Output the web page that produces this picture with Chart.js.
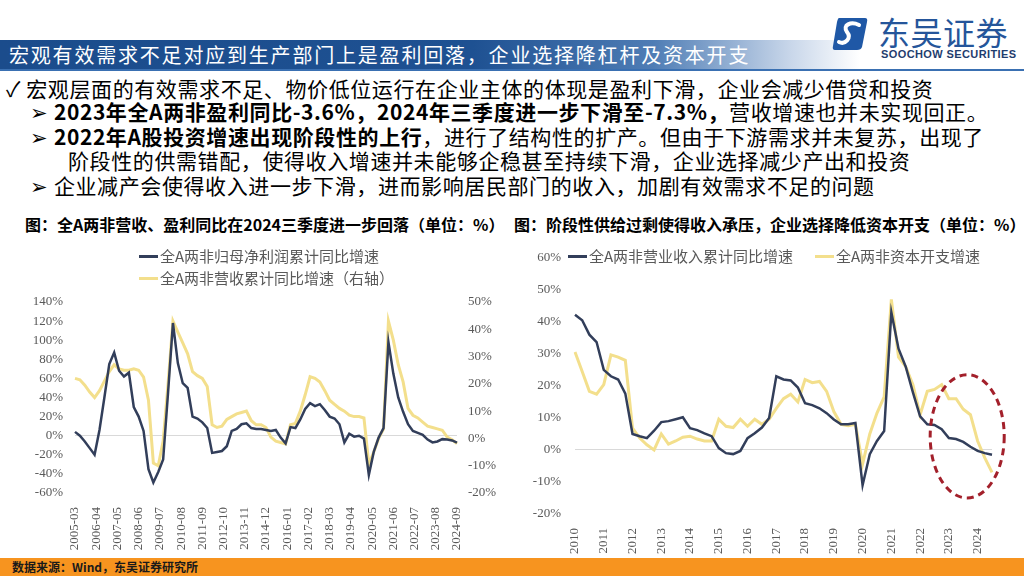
<!DOCTYPE html>
<html>
<head>
<meta charset="utf-8">
<script src="https://cdn.jsdelivr.net/npm/chart.js@4.4.1/dist/chart.umd.min.js"></script>
<style>
body{margin:0;background:#fff;}
#slide{position:relative;width:1024px;height:576px;overflow:hidden;background:#fff;font-family:'Noto Sans CJK SC',sans-serif;color:#000;}
.band{position:absolute;left:0;top:40px;width:860px;height:29px;background:linear-gradient(90deg,#1b4c8c 0%,#1e5192 55%,#4f7db5 76%,#c9d7ea 92%,rgba(255,255,255,0) 100%);}
.rule{position:absolute;left:0;top:69px;width:1024px;height:2px;background:#3a70b2;}
.title{position:absolute;left:9px;top:40px;height:29px;line-height:29px;color:#fff;font-size:20px;letter-spacing:1.8px;white-space:nowrap;}
.logo-cn{position:absolute;left:878px;top:13px;font-size:32px;line-height:36px;color:#25559a;letter-spacing:0.5px;}
.logo-en{position:absolute;left:881px;top:48px;font-family:'Liberation Sans Narrow','Liberation Sans',sans-serif;font-weight:bold;font-size:11px;color:#1f3d6e;letter-spacing:0.4px;}
.line{position:absolute;white-space:nowrap;font-size:21px;line-height:24px;letter-spacing:0.6px;}
.b{font-weight:bold;}
.cap{position:absolute;top:214px;font-size:16px;font-weight:bold;line-height:20px;white-space:nowrap;}
.leg{position:absolute;font-size:15px;line-height:18px;color:#595959;white-space:nowrap;}
.leg i{display:inline-block;width:19px;height:3px;vertical-align:middle;margin-right:2px;position:relative;top:-1px;}
.foot{position:absolute;left:0;top:558px;width:1024px;height:18px;background:#f7941f;}
.foot span{position:absolute;left:12px;top:0;font-size:12px;line-height:18px;font-weight:bold;color:#1a1a1a;}
canvas{position:absolute;}
</style>
</head>
<body>
<div id="slide">
  <div class="band"></div>
  <div class="rule"></div>
  <div class="title">宏观有效需求不足对应到生产部门上是盈利回落，企业选择降杠杆及资本开支</div>
  <svg style="position:absolute;left:831px;top:16px" width="38" height="36" viewBox="0 0 38 36">
    <path d="M8 2 H34 Q37 2 36 6 L31 31 Q30 34 26 34 H4 Q1 34 2 30 L6 6 Q7 2 8 2Z" fill="#1f58a6"/>
    <path d="M28 9 C20 5 11 9 16 16 C21 22 14 29 8 26" stroke="#fff" stroke-width="4" fill="none" stroke-linecap="round"/>
  </svg>
  <div class="logo-cn">东吴证券</div>
  <div class="logo-en">SOOCHOW SECURITIES</div>

  <div class="line" style="left:6px;top:76px;">✓ 宏观层面的有效需求不足、物价低位运行在企业主体的体现是盈利下滑，企业会减少借贷和投资</div>
  <div class="line" style="left:30px;top:99px;">➢ <span class="b">2023年全A两非盈利同比-3.6%，2024年三季度进一步下滑至-7.3%，</span>营收增速也并未实现回正。</div>
  <div class="line" style="left:30px;top:124px;">➢ <span class="b">2022年A股投资增速出现阶段性的上行</span>，进行了结构性的扩产。但由于下游需求并未复苏，出现了</div>
  <div class="line" style="left:68px;top:148px;">阶段性的供需错配，使得收入增速并未能够企稳甚至持续下滑，企业选择减少产出和投资</div>
  <div class="line" style="left:30px;top:173px;">➢ 企业减产会使得收入进一步下滑，进而影响居民部门的收入，加剧有效需求不足的问题</div>

  <div class="cap" style="left:25px;">图：全A两非营收、盈利同比在2024三季度进一步回落（单位：%）</div>
  <div class="cap" style="left:514px;">图：阶段性供给过剩使得收入承压，企业选择降低资本开支（单位：%）</div>

  <canvas id="leftChart" width="512" height="322" style="left:0;top:236px;"></canvas>
  <canvas id="rightChart" width="512" height="322" style="left:512px;top:236px;"></canvas>

  <div id="leftLegend"></div>
  <div id="rightLegend"></div>

  <div class="foot"><span>数据来源：Wind，东吴证券研究所</span></div>
</div>

<script>
// left chart: quarterly cumulative yoy, 2005-03 .. 2024-09
const profitName = '全A两非归母净利润累计同比增速';
const revenueName = '全A两非营收累计同比增速（右轴）';
const leftTicks = ['2005-03','2006-04','2007-05','2008-06','2009-07','2010-08','2011-09','2012-10','2013-11',
  '2014-12','2016-01','2017-02','2018-03','2019-04','2020-05','2021-06','2022-07','2023-08','2024-09'];
const profitYoy = [4,0,-6,-13,-20,6,40,75,87,68,
  62,66,30,20,5,-35,-49,-38,-25,45,
  118,76,55,50,20,18,14,8,-18,-17,
  -16,-11,5,7,12,13,8,7,7,6,
  5,6,-2,-8,9,8,17,28,34,31,
  33,27,20,18,12,-7,2,-1,0,-3,
  -41,-17,-2,8,98,65,40,25,12,5,
  3,1,-4,-7,-6,-3.6,-4,-5,-7.3];
const revenueYoy = [22,21.5,19.5,17,15,17.5,21,24.5,27,25.5,
  25,25,25.5,25,22.5,14,-9,-10,-1,20,
  43,39,35,31,24.5,23,22,19,5,4,
  4.5,7,8,9,9.5,10,6.5,5,5,4,
  0.5,-1,-1.5,-2,5,5.5,10,16,22.6,22,
  20.7,17.5,14,12.5,11,10,8.5,8,8,7.5,
  -9.5,-5,0,3.5,43,36,27,20.7,11,8.5,
  7.5,6,4.5,4,3.5,3,0.5,-0.5,-1.9];

// right chart: quarterly, 2010Q1 .. 2024Q3
const incomeName = '全A两非营业收入累计同比增速';
const capexName = '全A两非资本开支增速';
const rightYears = ['2010','2011','2012','2013','2014','2015','2016','2017','2018','2019','2020','2021','2022','2023','2024'];
const incomeYoy = [42.2,40.5,36,33.7,25,23,22,17.6,5,4.3,
  3.7,6,8.7,9,9.6,10.2,6.8,6.2,5.2,4.3,
  0.6,-1,-1.3,-0.3,3.7,5.2,7,10,23,22,
  21.7,19.5,14.6,14,13,11.5,9.5,8,8,8.4,
  -11,-1.3,2.8,5.9,43,31.6,26,18,10.5,8,
  7.8,6.5,3.7,3.4,2.5,1,-0.3,-1,-1.5];
const capexYoy = [30.6,24.5,18.3,17.4,20.4,29.7,29,28,6.8,3.7,
  1.6,0,5,1.8,2.8,4,4.3,3.4,2.8,2.8,
  9.6,7.4,7,9.6,7.4,9.6,8,9.6,13,16,
  17.4,15,22,21,21.4,18.3,12,8,7.6,8,
  -4.4,5,11.5,16.6,47,29,26,20.4,11,18.3,
  18.9,20.4,16,16,12.7,11,2.8,-2.5,-7];
// dashed ring over the last quarters (quarter index span, value span)
const ringQuarters = [49.4, 59.7];
const ringValues = [23.5, -15];

const navy = '#323e5a';
const gold = '#f3df8c';
const tickColor = '#595959';
const tickFont = {family: "'Liberation Serif', serif", size: 13};

let months = [];
for (let y = 2005; y <= 2024; y++) {
  for (let m = 1; m <= 12; m++) {
    if ((y === 2005 && m < 3) || (y === 2024 && m > 9)) continue;
    months.push(y + '-' + String(m).padStart(2, '0'));
  }
}
const quarterMonths = months.filter((d, i) => i % 3 === 0);

let quarters = [];
rightYears.forEach(y => { for (let q = 1; q <= 4; q++) quarters.push(y + 'Q' + q); });
quarters = quarters.slice(0, incomeYoy.length);

function zeroGrid(c) { return c.tick.value === 0 ? '#d9d9d9' : 'rgba(0,0,0,0)'; }

function makeLegend(id, items) {
  const box = document.getElementById(id);
  items.forEach(it => {
    const d = document.createElement('div');
    d.className = 'leg';
    d.style.left = it.left + 'px';
    d.style.top = it.top + 'px';
    d.innerHTML = '<i style="background:' + it.color + '"></i>' + it.text;
    box.appendChild(d);
  });
}

makeLegend('leftLegend', [
  {text: profitName, color: navy, left: 139, top: 247},
  {text: revenueName, color: gold, left: 139, top: 269}
]);
makeLegend('rightLegend', [
  {text: incomeName, color: navy, left: 568, top: 247},
  {text: capexName, color: gold, left: 815, top: 247}
]);

new Chart(document.getElementById('leftChart'), {
  type: 'line',
  data: {
    labels: months,
    datasets: [
      {label: profitName, data: profitYoy.map((v, i) => ({x: quarterMonths[i], y: v})),
        borderColor: navy, borderWidth: 2.5, yAxisID: 'y'},
      {label: revenueName, data: revenueYoy.map((v, i) => ({x: quarterMonths[i], y: v})),
        borderColor: gold, borderWidth: 3, yAxisID: 'y1'}
    ]
  },
  options: {
    responsive: false,
    animation: false,
    elements: {point: {radius: 0}, line: {tension: 0}},
    layout: {padding: {top: 66}},
    plugins: {legend: {display: false}, tooltip: {enabled: false}},
    scales: {
      x: {
        offset: false,
        grid: {display: false},
        border: {display: false},
        ticks: {
          autoSkip: false, minRotation: 90, maxRotation: 90, padding: 6,
          color: tickColor, font: tickFont,
          callback: function (v) {
            const l = this.getLabelForValue(v);
            return leftTicks.includes(l) ? l : '';
          }
        },
        afterFit: s => { s.height = 65; }
      },
      y: {
        position: 'left', min: -60, max: 140,
        ticks: {stepSize: 20, padding: 12, color: tickColor, font: tickFont, callback: v => v + '%'},
        grid: {color: zeroGrid, drawTicks: false},
        border: {display: false},
        afterFit: s => { s.width = 75; }
      },
      y1: {
        position: 'right', min: -20, max: 50,
        ticks: {stepSize: 10, padding: 11, color: tickColor, font: tickFont, callback: v => v + '%'},
        grid: {display: false, drawTicks: false},
        border: {display: false},
        afterFit: s => { s.width = 55; }
      }
    }
  }
});

const ringPlugin = {
  id: 'ring',
  afterDatasetsDraw(chart) {
    const {ctx} = chart;
    const x = chart.scales.x, y = chart.scales.y;
    const x0 = x.getPixelForValue(ringQuarters[0]), x1 = x.getPixelForValue(ringQuarters[1]);
    const y0 = y.getPixelForValue(ringValues[0]), y1 = y.getPixelForValue(ringValues[1]);
    ctx.save();
    ctx.beginPath();
    ctx.ellipse((x0 + x1) / 2, (y0 + y1) / 2, (x1 - x0) / 2, (y1 - y0) / 2, 0, 0, Math.PI * 2);
    ctx.setLineDash([7, 5]);
    ctx.lineWidth = 3;
    ctx.strokeStyle = '#a3202b';
    ctx.stroke();
    ctx.restore();
  }
};

new Chart(document.getElementById('rightChart'), {
  type: 'line',
  data: {
    labels: quarters,
    datasets: [
      {label: incomeName, data: incomeYoy, borderColor: navy, borderWidth: 2.5},
      {label: capexName, data: capexYoy, borderColor: gold, borderWidth: 3}
    ]
  },
  options: {
    responsive: false,
    animation: false,
    elements: {point: {radius: 0}, line: {tension: 0}},
    layout: {padding: {top: 20, right: 32}},
    plugins: {legend: {display: false}, tooltip: {enabled: false}},
    scales: {
      x: {
        offset: false,
        grid: {display: false},
        border: {display: false},
        ticks: {
          autoSkip: false, minRotation: 90, maxRotation: 90, padding: 6,
          color: tickColor, font: tickFont,
          callback: (v, i) => (i % 4 === 0 ? rightYears[i / 4] : '')
        },
        afterFit: s => { s.height = 44; }
      },
      y: {
        min: -20, max: 60,
        ticks: {stepSize: 10, padding: 14, color: tickColor, font: tickFont, callback: v => v + '%'},
        grid: {color: zeroGrid, drawTicks: false},
        border: {display: false},
        afterFit: s => { s.width = 63; }
      }
    }
  },
  plugins: [ringPlugin]
});
</script>
</body>
</html>
